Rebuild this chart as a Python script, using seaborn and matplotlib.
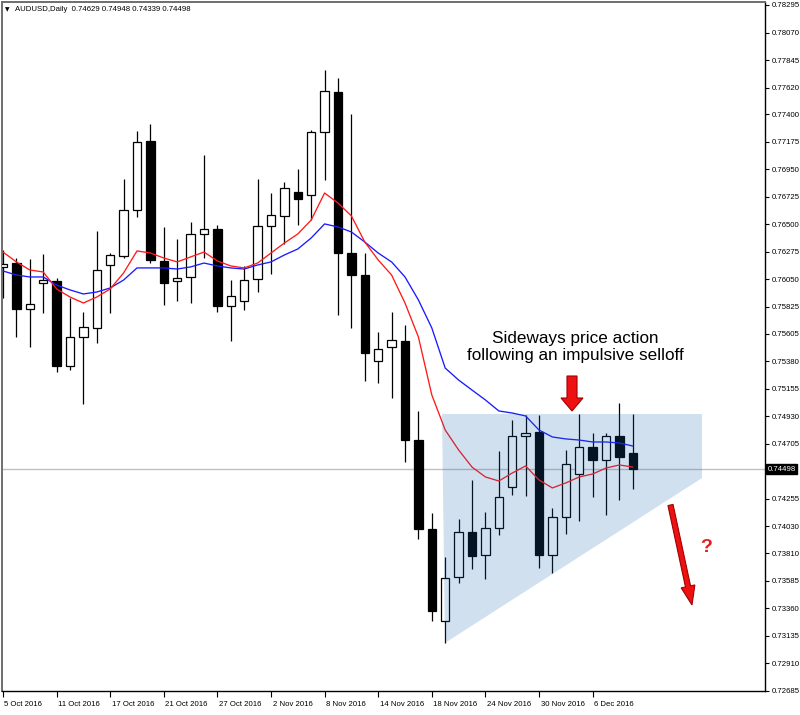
import numpy as np
import pandas as pd
import matplotlib
matplotlib.use("Agg")
import matplotlib.pyplot as plt
import matplotlib.transforms as mtransforms
from matplotlib.patches import Polygon
import seaborn as sns

# ---------------- data ----------------
opens = [0.76152, 0.76184, 0.75808, 0.76021, 0.76037, 0.75342, 0.75579, 0.75653,
         0.76168, 0.76242, 0.76618, 0.77183, 0.76201, 0.76037, 0.76070, 0.76422,
         0.76463, 0.75833, 0.75873, 0.76053, 0.76487, 0.76569, 0.76765, 0.76741,
         0.77256, 0.77583, 0.76266, 0.76086, 0.75383, 0.75497, 0.75546, 0.74736,
         0.74008, 0.73256, 0.73616, 0.73984, 0.73795, 0.74016, 0.74352, 0.74769,
         0.74802, 0.73795, 0.74106, 0.74458, 0.74679, 0.74573, 0.74769, 0.74629]
highs = [0.76291, 0.76225, 0.76217, 0.76258, 0.76062, 0.75898, 0.75784, 0.76446,
         0.76266, 0.76872, 0.77264, 0.77322, 0.76479, 0.76381, 0.76520, 0.77068,
         0.76495, 0.76045, 0.76160, 0.76872, 0.76757, 0.76847, 0.76953, 0.77273,
         0.77763, 0.77698, 0.77403, 0.76266, 0.75620, 0.75784, 0.75677, 0.74974,
         0.74139, 0.73779, 0.74090, 0.74409, 0.74147, 0.74646, 0.74900, 0.74941,
         0.74941, 0.74180, 0.74655, 0.74949, 0.74794, 0.74794, 0.75039, 0.74948]
lows = [0.75898, 0.75579, 0.75497, 0.75775, 0.75293, 0.75309, 0.75031, 0.75530,
        0.75775, 0.76225, 0.76561, 0.76184, 0.75841, 0.75873, 0.75857, 0.76225,
        0.75784, 0.75546, 0.75800, 0.75947, 0.76094, 0.76340, 0.76495, 0.76536,
        0.76863, 0.75759, 0.75653, 0.75219, 0.75203, 0.75080, 0.74556, 0.73926,
        0.73256, 0.73076, 0.73566, 0.73681, 0.73599, 0.73959, 0.74286, 0.74278,
        0.73689, 0.73648, 0.73967, 0.74074, 0.74270, 0.74123, 0.74246, 0.74339]
closes = [0.76176, 0.75808, 0.75849, 0.76045, 0.75342, 0.75579, 0.75661, 0.76127,
          0.76250, 0.76618, 0.77174, 0.76209, 0.76021, 0.76062, 0.76422, 0.76463,
          0.75833, 0.75914, 0.76045, 0.76487, 0.76577, 0.76798, 0.76708, 0.77256,
          0.77592, 0.76266, 0.76086, 0.75448, 0.75481, 0.75554, 0.74736, 0.74008,
          0.73337, 0.73607, 0.73984, 0.73787, 0.74016, 0.74270, 0.74769, 0.74794,
          0.73795, 0.74106, 0.74540, 0.74679, 0.74573, 0.74769, 0.74597, 0.74498]
ma_fast = [0.76274, 0.76193, 0.76127, 0.76111, 0.75972, 0.75906, 0.75857, 0.75906,
           0.75972, 0.76103, 0.76283, 0.76266, 0.76225, 0.76193, 0.76234, 0.76274,
           0.76201, 0.76160, 0.76144, 0.76184, 0.76266, 0.76348, 0.76422, 0.76536,
           0.76757, 0.76675, 0.76569, 0.76356, 0.76209, 0.76086, 0.75857, 0.75579,
           0.75105, 0.74818, 0.74655, 0.74515, 0.74434, 0.74401, 0.74466, 0.74524,
           0.74409, 0.74344, 0.74385, 0.74434, 0.74458, 0.74507, 0.74532, 0.74515]
ma_slow = [0.76119, 0.76086, 0.76070, 0.76070, 0.76004, 0.75964, 0.75931, 0.75947,
           0.75980, 0.76045, 0.76144, 0.76144, 0.76144, 0.76135, 0.76152, 0.76184,
           0.76160, 0.76144, 0.76135, 0.76168, 0.76193, 0.76250, 0.76299, 0.76389,
           0.76504, 0.76479, 0.76438, 0.76356, 0.76266, 0.76193, 0.76070, 0.75882,
           0.75653, 0.75325, 0.75227, 0.75145, 0.75064, 0.74974, 0.74957, 0.74933,
           0.74818, 0.74761, 0.74745, 0.74736, 0.74720, 0.74720, 0.74712, 0.74687]
date_labels = ["5 Oct 2016", "11 Oct 2016", "17 Oct 2016", "21 Oct 2016",
               "27 Oct 2016", "2 Nov 2016", "8 Nov 2016", "14 Nov 2016",
               "18 Nov 2016", "24 Nov 2016", "30 Nov 2016", "6 Dec 2016"]
price_ticks = [0.78295, 0.78070, 0.77845, 0.77620, 0.77400, 0.77175, 0.76950,
               0.76725, 0.76500, 0.76275, 0.76050, 0.75825, 0.75605, 0.75380,
               0.75155, 0.74930, 0.74705, 0.74255, 0.74030, 0.73810, 0.73585,
               0.73360, 0.73135, 0.72910, 0.72685]
last_price = 0.74498
header = "AUDUSD,Daily  0.74629 0.74948 0.74339 0.74498"
note_lines = "Sideways price action\nfollowing an impulsive selloff"

df = pd.DataFrame({"idx": np.arange(len(opens)), "open": opens, "high": highs,
                   "low": lows, "close": closes, "fast": ma_fast, "slow": ma_slow})

# ---------------- figure ----------------
sns.set_theme(style="white")
plt.rcParams["font.family"] = ["Liberation Sans", "DejaVu Sans"]

W, H = 800, 715
fig = plt.figure(figsize=(W / 100, H / 100), dpi=100)
fig.patch.set_facecolor("white")
ax_l, ax_r, ax_t, ax_b = 2, 765, 2, 691
ax = fig.add_axes([ax_l / W, 1 - ax_b / H, (ax_r - ax_l) / W, (ax_b - ax_t) / H])
ax.set_facecolor("white")

# pixel mapping: x = 3 + 13.4*i ; price(y) = 0.783359 - 8.181e-5*y
ax.set_xlim((ax_l - 3) / 13.4, (ax_r - 3) / 13.4)
ax.set_ylim(0.783359 - 8.181e-5 * ax_b, 0.783359 - 8.181e-5 * ax_t)

# current price line
ax.axhline(last_price, color="#c0c0c0", lw=1.0, zorder=0.5)

# candles
up = df["close"] >= df["open"]
ax.vlines(df["idx"], df["low"], df["high"], color="black", lw=0.9, zorder=2)
body_bottom = np.minimum(df["open"], df["close"])
body_h = np.maximum(np.abs(df["close"] - df["open"]), 0.00002)
ax.bar(df["idx"], body_h, bottom=body_bottom, width=0.62,
       color=np.where(up, "white", "black"), edgecolor="black", lw=0.9, zorder=3)

# moving averages
sns.lineplot(data=df, x="idx", y="slow", color="#1a1aff", lw=0.95, ax=ax, zorder=4)
sns.lineplot(data=df, x="idx", y="fast", color="#ff1a1a", lw=0.95, ax=ax, zorder=4)

# shaded consolidation area
poly_x = [(442 - 3) / 13.4, (702 - 3) / 13.4, (702 - 3) / 13.4, (445 - 3) / 13.4]
poly_y = [0.74949, 0.74949, 0.74425, 0.73076]
ax.fill(poly_x, poly_y, color=(0.10, 0.40, 0.70), alpha=0.2, lw=0, zorder=6)

# axes styling
for s in ["top", "left"]:
    ax.spines[s].set_color("#6e6e6e")
    ax.spines[s].set_linewidth(1.4)
for s in ["right", "bottom"]:
    ax.spines[s].set_color("black")
    ax.spines[s].set_linewidth(1.0)
ax.set_xlabel("")
ax.set_ylabel("")
ax.grid(False)

ax.yaxis.tick_right()
ax.set_yticks(price_ticks)
ax.set_yticklabels([f"{v:.5f}" for v in price_ticks])
ax.tick_params(axis="y", direction="out", length=3, width=0.8, colors="black",
               labelsize=5.6, pad=2, right=True, left=False)

ax.set_xticks(np.arange(0, 4 * len(date_labels), 4))
ax.set_xticklabels(date_labels)
ax.tick_params(axis="x", direction="out", length=4, width=0.8, colors="black",
               labelsize=5.6, pad=3, bottom=True)
offset = mtransforms.ScaledTranslation(1.5 / 100, 0, fig.dpi_scale_trans)
for lbl in ax.get_xticklabels():
    lbl.set_ha("left")
    lbl.set_transform(lbl.get_transform() + offset)

# current price box on the scale
trans = mtransforms.blended_transform_factory(ax.transAxes, ax.transData)
ax.text(1.0 + 2.5 / (ax_r - ax_l), last_price, f"{last_price:.5f}", transform=trans,
        ha="left", va="center", color="white", fontsize=5.6, zorder=10,
        bbox=dict(facecolor="black", edgecolor="black", pad=1.2), clip_on=False)

# header
def P(x, y):
    return (x / W, 1 - y / H)

fig.text(*P(5, 9.5), "\u25BC", fontsize=4.2, color="black", ha="left", va="center",
         family=["DejaVu Sans"])
fig.text(*P(15, 9.5), header, fontsize=5.6, color="black", ha="left", va="center")

# annotation text
fig.text(*P(575, 347), note_lines, fontsize=12.3, color="black", ha="center",
         va="center", linespacing=1.15)

# red arrows
def arrow_poly(pts):
    return Polygon([P(x, y) for x, y in pts], closed=True, transform=fig.transFigure,
                   facecolor="#ee1111", edgecolor="#a00000", lw=0.8, zorder=20)

fig.patches.append(arrow_poly([(567, 376), (577, 376), (577, 398), (583, 398),
                               (572, 411), (561, 398), (567, 398)]))

T = np.array([670.5, 505.0])
Hd = np.array([692.0, 605.0])
d = (Hd - T) / np.linalg.norm(Hd - T)
n = np.array([-d[1], d[0]])
B = Hd - d * 19
pts = [T + n * 2.6, B + n * 2.6, B + n * 7.0, Hd, B - n * 7.0, B - n * 2.6, T - n * 2.6]
fig.patches.append(arrow_poly([tuple(p) for p in pts]))

fig.text(*P(706, 547), "?", fontsize=14, fontweight="bold", color="#e02020",
         ha="center", va="center")

fig.savefig("out.png", dpi=100, facecolor="white")
